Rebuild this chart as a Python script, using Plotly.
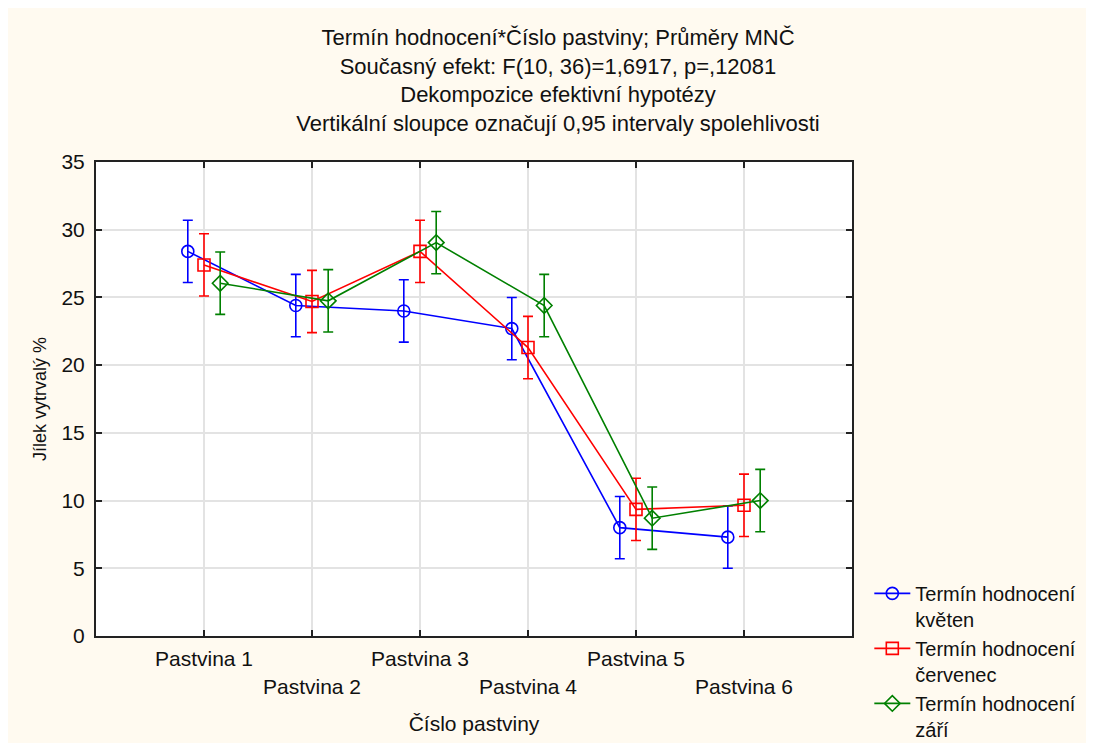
import plotly.graph_objects as go

# Číslo pastviny
pastviny = ["Pastvina 1", "Pastvina 2", "Pastvina 3", "Pastvina 4", "Pastvina 5", "Pastvina 6"]
pozice = [1, 2, 3, 4, 5, 6]

# Průměry MNČ - Jílek vytrvalý %
kveten = [28.4, 24.4, 24.0, 22.7, 8.0, 7.3]
cervenec = [27.4, 24.7, 28.4, 21.3, 9.35, 9.65]
zari = [26.05, 24.75, 29.05, 24.4, 8.7, 10.0]

# 0,95 intervaly spolehlivosti (polovina šířky)
ci_kveten = [2.3, 2.3, 2.3, 2.3, 2.3, 2.3]
ci_cervenec = [2.3, 2.3, 2.3, 2.3, 2.3, 2.3]
ci_zari = [2.3, 2.3, 2.3, 2.3, 2.3, 2.3]

y_ticks = [0, 5, 10, 15, 20, 25, 30, 35]

FONT = "Liberation Sans, Arial, sans-serif"
CREAM = "#FFFAF0"

series = [
    ("Termín hodnocení<br>květen", kveten, ci_kveten, "#0000FF", "circle-open", -0.15),
    ("Termín hodnocení<br>červenec", cervenec, ci_cervenec, "#FF0000", "square-open", 0.0),
    ("Termín hodnocení<br>září", zari, ci_zari, "#008000", "diamond-open", 0.15),
]

fig = go.Figure()
for name, vals, ci, color, symbol, shift in series:
    fig.add_trace(go.Scatter(
        x=[p + shift for p in pozice],
        y=vals,
        name=name,
        mode="lines+markers",
        line=dict(color=color, width=1.6),
        marker=dict(symbol=symbol, size=12, color=color, line=dict(color=color, width=1.6)),
        error_y=dict(type="data", array=ci, visible=True, color=color, thickness=1.6, width=5),
    ))

# tick labels staggered on two rows
ticktext = [t if i % 2 == 0 else "<br>" + t for i, t in enumerate(pastviny)]

fig.update_xaxes(
    range=[0, 7],
    tickvals=pozice,
    ticktext=ticktext,
    ticks="inside", ticklen=6, tickwidth=1.5, tickcolor="#222",
    ticklabelstandoff=3,
    showline=True, linecolor="#222", linewidth=2, mirror="allticks",
    showgrid=True, gridcolor="#E3E3E3", gridwidth=1.5,
    zeroline=False,
    tickfont=dict(family=FONT, size=21, color="#111"),
    title=dict(text="Číslo pastviny", font=dict(family=FONT, size=21, color="#111"), standoff=20),
)
fig.update_yaxes(
    range=[0, 35],
    tickvals=y_ticks,
    ticks="inside", ticklen=6, tickwidth=1.5, tickcolor="#222",
    ticklabelstandoff=5,
    showline=True, linecolor="#222", linewidth=2, mirror="allticks",
    showgrid=True, gridcolor="#E3E3E3", gridwidth=1.5,
    zeroline=False,
    tickfont=dict(family=FONT, size=21, color="#111"),
    title=dict(text="Jílek vytrvalý %", font=dict(family=FONT, size=18, color="#111"), standoff=10),
)

fig.update_layout(
    width=1094, height=735,
    margin=dict(l=88, r=250, t=154, b=107, autoexpand=False),
    paper_bgcolor=CREAM,
    plot_bgcolor="white",
    font=dict(family=FONT, size=21, color="#111"),
    title=dict(
        text="Termín hodnocení*Číslo pastviny; Průměry MNČ<br>"
             "Současný efekt: F(10, 36)=1,6917, p=,12081<br>"
             "Dekompozice efektivní hypotézy<br>"
             "Vertikální sloupce označují 0,95 intervaly spolehlivosti",
        x=550 / 1094, xanchor="center",
        y=1 - 37 / 735, yanchor="top",
        font=dict(family=FONT, size=22, color="#111"),
    ),
    showlegend=True,
    legend=dict(
        x=1.0229, xanchor="left",
        y=0.131, yanchor="top",
        bgcolor="rgba(0,0,0,0)",
        font=dict(family=FONT, size=20, color="#111"),
        valign="top",
        tracegroupgap=0,
        itemwidth=36,
    ),
)

fig.write_html("out.html")
